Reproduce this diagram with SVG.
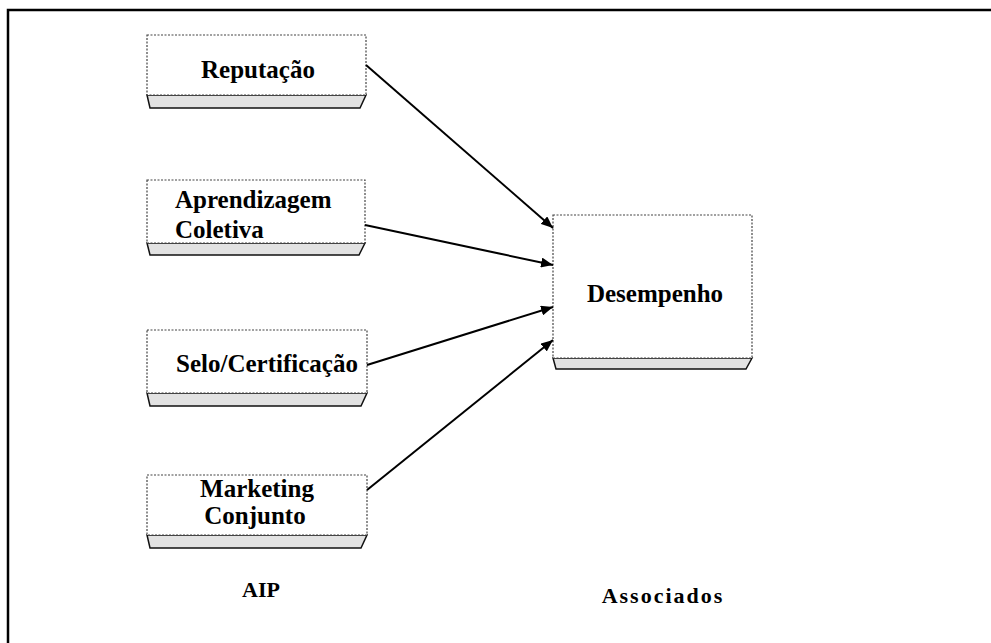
<svg xmlns="http://www.w3.org/2000/svg" width="991" height="643" viewBox="0 0 991 643">
<defs>
<style>
.box{fill:#fff;stroke:#444;stroke-width:1.2;stroke-dasharray:2,1.5}
.sh{fill:#e2e2e2;stroke:#111;stroke-width:1.5}
.t{font-family:"Liberation Serif","Times New Roman",serif;font-weight:bold;font-size:25px;fill:#000}
.lbl{font-family:"Liberation Serif","Times New Roman",serif;font-weight:bold;font-size:22px;fill:#000}
.c{stroke:#000;stroke-width:2;fill:none;marker-end:url(#ah)}
</style>
<marker id="ah" viewBox="0 0 12 10" refX="12" refY="5" markerWidth="12" markerHeight="10" markerUnits="userSpaceOnUse" orient="auto">
<path d="M0,0 L12,5 L0,10 Z" fill="#000"/>
</marker>
</defs>
<rect width="991" height="643" fill="#fff"/>
<path d="M8,660 L8,10 L1000,10" fill="none" stroke="#000" stroke-width="2.5"/>

<g id="reputacao">
<polygon class="sh" points="147,95 366,95 360,108 150,108"/>
<rect class="box" x="147" y="35" width="219" height="60"/>
<text class="t" x="258" y="78" text-anchor="middle">Reputação</text>
</g>
<g id="aprendizagem">
<polygon class="sh" points="147,243 365,243 359,255 150,255"/>
<rect class="box" x="147" y="180" width="218" height="63"/>
<text class="t" x="175" y="208">Aprendizagem</text>
<text class="t" x="175" y="238">Coletiva</text>
</g>
<g id="selo">
<polygon class="sh" points="147,393 367,393 361,406 150,406"/>
<rect class="box" x="147" y="330" width="220" height="63"/>
<text class="t" x="267" y="372" text-anchor="middle">Selo/Certificação</text>
</g>
<g id="marketing">
<polygon class="sh" points="147,535 367,535 361,548 150,548"/>
<rect class="box" x="147" y="475" width="220" height="60"/>
<text class="t" x="257" y="497" text-anchor="middle">Marketing</text>
<text class="t" x="255" y="524" text-anchor="middle">Conjunto</text>
</g>
<g id="desempenho">
<polygon class="sh" points="553,358 752,358 746,369 556,369"/>
<rect class="box" x="553" y="215" width="199" height="143"/>
<text class="t" x="655" y="302" text-anchor="middle">Desempenho</text>
</g>
<g id="labels">
<text class="lbl" x="261" y="597" text-anchor="middle">AIP</text>
<text class="lbl" x="663" y="603" text-anchor="middle" letter-spacing="2">Associados</text>
</g>
<g id="connectors">
<line class="c" x1="366" y1="65" x2="553" y2="228"/>
<line class="c" x1="365" y1="225" x2="553" y2="265"/>
<line class="c" x1="367" y1="365" x2="553" y2="307"/>
<line class="c" x1="367" y1="490" x2="553" y2="340"/>
</g>
</svg>
